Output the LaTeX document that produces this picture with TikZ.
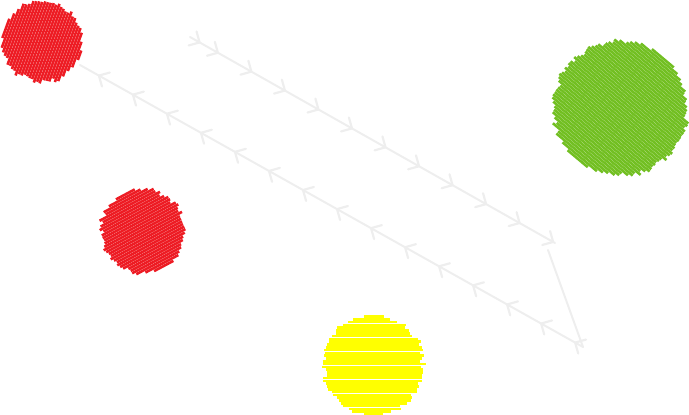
\documentclass[tikz,border=0pt]{standalone}
\usepackage{tikz}
\usetikzlibrary{decorations.markings,positioning}
\definecolor{ballred}{HTML}{ED1C24}
\definecolor{ballgreen}{HTML}{72BF22}
\definecolor{ballyellow}{HTML}{FFFF00}
\definecolor{trailgray}{HTML}{EEEEEE}
\tikzstyle{trail}=[draw=trailgray,line width=2pt,line cap=round,line join=round]
\tikzstyle{ball}=[circle,inner sep=0pt]
\newcommand{\barbtip}{\draw[trail,line width=2.2pt] (-8pt,-8pt) -- (0pt,0pt) -- (-8pt,8pt);}
% schraffierter Ball: Name, Mitte, Radius, Winkel, Farbe
\newcommand{\hatchball}[5]{%
  \node[ball,minimum size=#3*2pt] (#1) at #2 {};
  \begin{scope}[shift={#2},rotate=#4]
    \pgfmathtruncatemacro\nlines{2*#3/2.8}
    \foreach \i in {0,...,\nlines}{
      \pgfmathsetmacro\k{-#3+1.4+2.8*\i}
      \pgfmathsetmacro\hl{sqrt(max(#3*#3-\k*\k,1))+2*rand}
      \pgfmathsetmacro\sh{2*rand}
      \draw[#5,line width=2.6pt] (-\hl+\sh,\k) -- (\hl+\sh,\k);
    }
  \end{scope}}

\begin{document}
\begin{tikzpicture}[x=1pt,y=-1pt]
    \pgfmathsetseed{7}
    \useasboundingbox (0,0) rectangle (689,415);

    % Baelle
    \hatchball{redtop}{(42,42)}{40}{70}{ballred}
    \hatchball{redmid}{(143,231)}{42}{28}{ballred}
    \hatchball{green}{(620,108)}{67}{-40}{ballgreen}
    \hatchball{yellow}{(373,365)}{50}{0}{ballyellow}

    % Wegpunkte
    \coordinate (start) at (190,37);
    \coordinate (turn) at (555,243);
    \coordinate (drop) at (548,250);
    \coordinate (corner) at (583,347);
    \coordinate (back) at (80,65);

    % Spur
    \draw[trail,postaction={decorate},decoration={markings,
        mark=at position 11pt with {\barbtip},
        mark=between positions 32pt and 1 step 38.5pt with {\barbtip}}]
        (start) -- (turn);
    \draw[trail] (drop) -- (corner);
    \draw[trail,postaction={decorate},decoration={markings,
        mark=between positions 9pt and 1 step 39pt with {\barbtip}}]
        (corner) -- (back);

\end{tikzpicture}
\end{document}
